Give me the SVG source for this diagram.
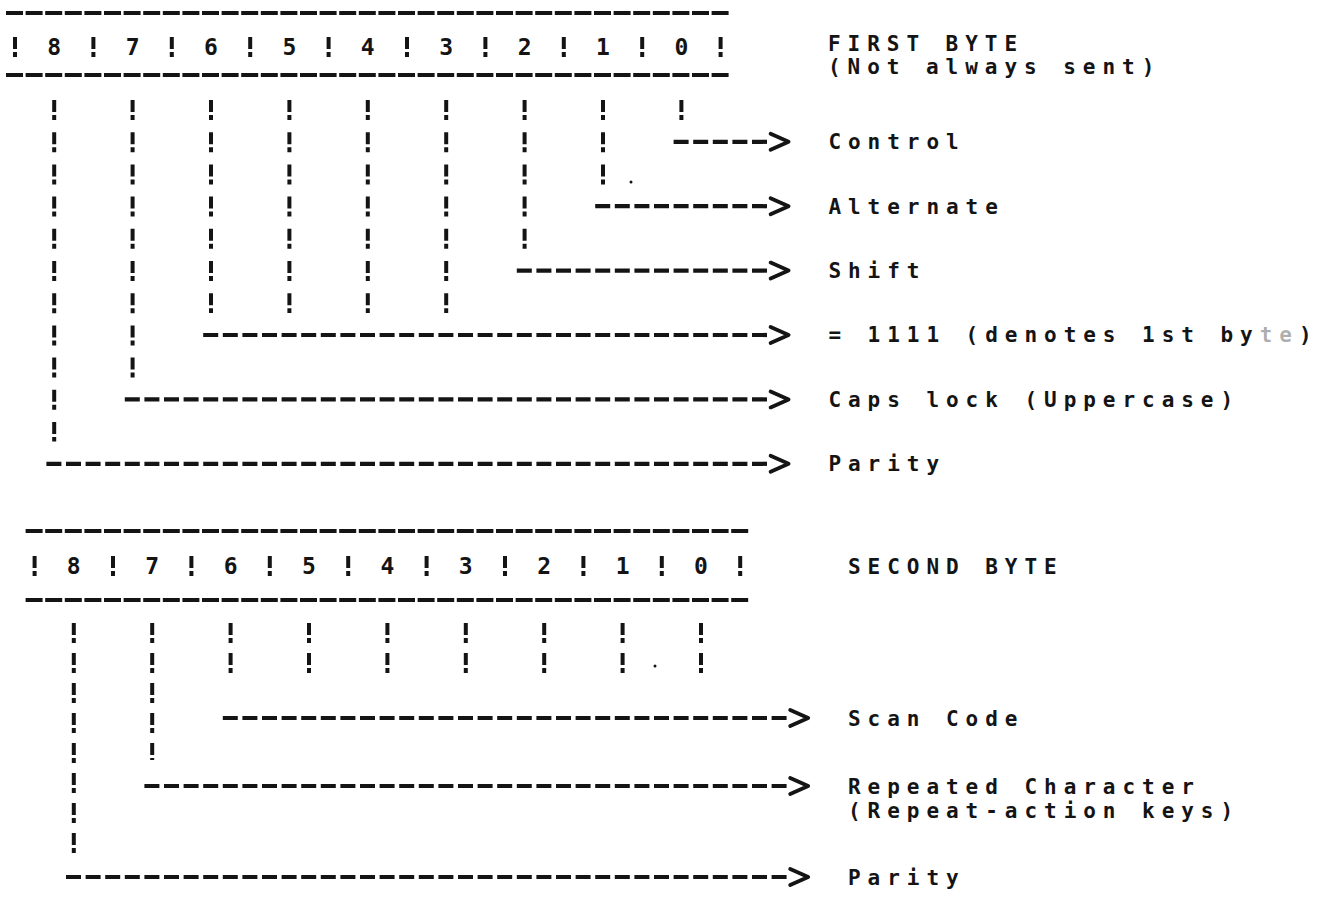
<svg xmlns="http://www.w3.org/2000/svg" width="1318" height="898" viewBox="0 0 1318 898">
<style>
  .bg { fill: #ffffff; }
  .lbl { font-family: "DejaVu Sans Mono", "Liberation Mono", monospace; font-weight: bold; font-size: 21px; letter-spacing: 6.96px; fill: #141414; }
  .dig { font-family: "DejaVu Sans Mono", "Liberation Mono", monospace; font-weight: bold; font-size: 23px; fill: #141414; text-anchor: middle; }
  .border { stroke: #141414; stroke-width: 4.2; stroke-dasharray: 17 2.6; fill: none; }
  .sep { stroke: #141414; stroke-width: 4; stroke-dasharray: 12 3 5 50; fill: none; }
  .col { stroke: #141414; stroke-width: 4; stroke-dasharray: 12 3 5 12.2; fill: none; }
  .col2 { stroke: #141414; stroke-width: 4; stroke-dasharray: 12 3 5 10; fill: none; }
  .arr { stroke: #141414; stroke-width: 4.2; stroke-dasharray: 15 4.6; fill: none; marker-end: url(#chev); }
</style>
<defs>
  <marker id="chev" markerUnits="userSpaceOnUse" viewBox="0 -11 26 22" markerWidth="26" markerHeight="22" refX="0" refY="0" orient="auto" overflow="visible">
    <path d="M3,-8 L21,0 L3,8" fill="none" stroke="#141414" stroke-width="3.8" stroke-linejoin="round" stroke-linecap="round"/>
  </marker>
</defs>
<rect class="bg" x="0" y="0" width="1318" height="898"/>

<!-- FIRST BYTE register -->
<g id="first-byte-register">
  <line class="border" x1="6" y1="13" x2="730" y2="13"/>
  <line class="border" x1="6" y1="75" x2="730" y2="75"/>
  <g id="first-byte-separators">
    <line class="sep" x1="15" y1="37" x2="15" y2="57"/>
    <line class="sep" x1="93.4" y1="37" x2="93.4" y2="57"/>
    <line class="sep" x1="171.8" y1="37" x2="171.8" y2="57"/>
    <line class="sep" x1="250.2" y1="37" x2="250.2" y2="57"/>
    <line class="sep" x1="328.6" y1="37" x2="328.6" y2="57"/>
    <line class="sep" x1="407" y1="37" x2="407" y2="57"/>
    <line class="sep" x1="485.4" y1="37" x2="485.4" y2="57"/>
    <line class="sep" x1="563.8" y1="37" x2="563.8" y2="57"/>
    <line class="sep" x1="642.2" y1="37" x2="642.2" y2="57"/>
    <line class="sep" x1="720.6" y1="37" x2="720.6" y2="57"/>
  </g>
  <g id="b1-bit8"><text class="dig" x="54.2" y="55">8</text></g>
  <g id="b1-bit7"><text class="dig" x="132.6" y="55">7</text></g>
  <g id="b1-bit6"><text class="dig" x="211" y="55">6</text></g>
  <g id="b1-bit5"><text class="dig" x="289.4" y="55">5</text></g>
  <g id="b1-bit4"><text class="dig" x="367.8" y="55">4</text></g>
  <g id="b1-bit3"><text class="dig" x="446.2" y="55">3</text></g>
  <g id="b1-bit2"><text class="dig" x="524.6" y="55">2</text></g>
  <g id="b1-bit1"><text class="dig" x="603" y="55">1</text></g>
  <g id="b1-bit0"><text class="dig" x="681.4" y="55">0</text></g>
</g>

<g id="first-byte-title">
  <text class="lbl" x="828" y="51">FIRST BYTE</text>
  <text class="lbl" x="828" y="74">(Not always sent)</text>
</g>

<g id="label-control"><text class="lbl" x="828.4" y="149">Control</text></g>
<g id="label-alternate"><text class="lbl" x="828.4" y="214">Alternate</text></g>
<g id="label-shift"><text class="lbl" x="828.4" y="278">Shift</text></g>
<g id="label-1111"><text class="lbl" x="828.4" y="342">= 1111 (denotes 1st by<tspan fill-opacity="0.35">te</tspan>)</text></g>
<g id="label-capslock"><text class="lbl" x="828.4" y="407">Caps lock (Uppercase)</text></g>
<g id="label-parity1"><text class="lbl" x="828.4" y="471">Parity</text></g>

<!-- SECOND BYTE register -->
<g id="second-byte-register">
  <line class="border" x1="25.6" y1="531" x2="750" y2="531"/>
  <line class="border" x1="25.6" y1="600" x2="750" y2="600"/>
  <g id="second-byte-separators">
    <line class="sep" x1="34.6" y1="556" x2="34.6" y2="576"/>
    <line class="sep" x1="113" y1="556" x2="113" y2="576"/>
    <line class="sep" x1="191.4" y1="556" x2="191.4" y2="576"/>
    <line class="sep" x1="269.8" y1="556" x2="269.8" y2="576"/>
    <line class="sep" x1="348.2" y1="556" x2="348.2" y2="576"/>
    <line class="sep" x1="426.6" y1="556" x2="426.6" y2="576"/>
    <line class="sep" x1="505" y1="556" x2="505" y2="576"/>
    <line class="sep" x1="583.4" y1="556" x2="583.4" y2="576"/>
    <line class="sep" x1="661.8" y1="556" x2="661.8" y2="576"/>
    <line class="sep" x1="740.2" y1="556" x2="740.2" y2="576"/>
  </g>
  <g id="b2-bit8"><text class="dig" x="73.8" y="574">8</text></g>
  <g id="b2-bit7"><text class="dig" x="152.2" y="574">7</text></g>
  <g id="b2-bit6"><text class="dig" x="230.6" y="574">6</text></g>
  <g id="b2-bit5"><text class="dig" x="309" y="574">5</text></g>
  <g id="b2-bit4"><text class="dig" x="387.4" y="574">4</text></g>
  <g id="b2-bit3"><text class="dig" x="465.8" y="574">3</text></g>
  <g id="b2-bit2"><text class="dig" x="544.2" y="574">2</text></g>
  <g id="b2-bit1"><text class="dig" x="622.6" y="574">1</text></g>
  <g id="b2-bit0"><text class="dig" x="701" y="574">0</text></g>
</g>

<g id="second-byte-title"><text class="lbl" x="848" y="574">SECOND BYTE</text></g>
<g id="label-scancode"><text class="lbl" x="848" y="726">Scan Code</text></g>
<g id="label-repeated">
  <text class="lbl" x="848" y="794">Repeated Character</text>
  <text class="lbl" x="848" y="818">(Repeat-action keys)</text>
</g>
<g id="label-parity2"><text class="lbl" x="848" y="885">Parity</text></g>

<!-- connectors -->
<g id="connectors">
  <!-- first byte columns -->
  <line class="col" x1="54.2" y1="100" x2="54.2" y2="441.6"/>
  <line class="col" x1="132.6" y1="100" x2="132.6" y2="377.4"/>
  <line class="col" x1="211" y1="100" x2="211" y2="313"/>
  <line class="col" x1="289.4" y1="100" x2="289.4" y2="313"/>
  <line class="col" x1="367.8" y1="100" x2="367.8" y2="313"/>
  <line class="col" x1="446.2" y1="100" x2="446.2" y2="313"/>
  <line class="col" x1="524.6" y1="100" x2="524.6" y2="248.8"/>
  <line class="col" x1="603" y1="100" x2="603" y2="184.4"/>
  <line class="col" x1="681.4" y1="100" x2="681.4" y2="120"/>
  <!-- first byte arrows -->
  <line class="arr" x1="673.6" y1="141.8" x2="767.6" y2="141.8"/>
  <line class="arr" x1="595.2" y1="206.2" x2="767.6" y2="206.2"/>
  <line class="arr" x1="516.8" y1="270.6" x2="767.6" y2="270.6"/>
  <line class="arr" x1="203.2" y1="335" x2="767.6" y2="335"/>
  <line class="arr" x1="124.8" y1="399.4" x2="767.6" y2="399.4"/>
  <line class="arr" x1="46.4" y1="463.8" x2="767.6" y2="463.8"/>
  <!-- second byte columns -->
  <line class="col2" x1="73.8" y1="623" x2="73.8" y2="855"/>
  <line class="col2" x1="152.2" y1="623" x2="152.2" y2="760"/>
  <line class="col2" x1="230.6" y1="623" x2="230.6" y2="673"/>
  <line class="col2" x1="309" y1="623" x2="309" y2="673"/>
  <line class="col2" x1="387.4" y1="623" x2="387.4" y2="673"/>
  <line class="col2" x1="465.8" y1="623" x2="465.8" y2="673"/>
  <line class="col2" x1="544.2" y1="623" x2="544.2" y2="673"/>
  <line class="col2" x1="622.6" y1="623" x2="622.6" y2="673"/>
  <line class="col2" x1="701" y1="623" x2="701" y2="673"/>
  <!-- second byte arrows -->
  <line class="arr" x1="222.8" y1="718" x2="787.2" y2="718"/>
  <line class="arr" x1="144.4" y1="786" x2="787.2" y2="786"/>
  <line class="arr" x1="66" y1="877" x2="787.2" y2="877"/>
</g>

<!-- stray print specks -->
<circle cx="631" cy="182" r="1.5" fill="#141414"/>
<circle cx="655" cy="666" r="1.5" fill="#141414"/>
</svg>
